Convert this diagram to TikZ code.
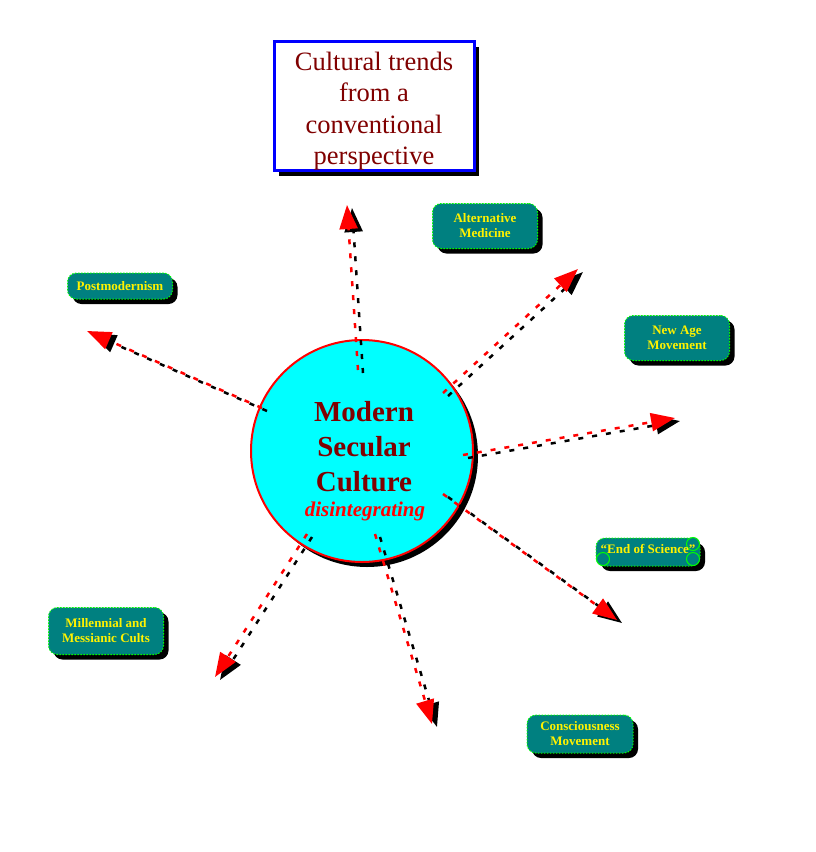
\documentclass[tikz,border=0pt]{standalone}
\usepackage{fontspec}
\setmainfont{Liberation Serif}
\usetikzlibrary{shapes.geometric, arrows.meta, positioning, calc, shadows}

\definecolor{darkred}{RGB}{128,0,0}
\definecolor{boxteal}{RGB}{0,128,128}
\definecolor{hubcyan}{RGB}{0,255,255}

\begin{document}
\begin{tikzpicture}[
  x=1pt, y=-1pt,
  hub/.style={circle, fill=hubcyan, draw=red, line width=2pt, minimum size=222pt,
    drop shadow={shadow xshift=5pt, shadow yshift=-5pt, opacity=1, fill=black}},
  titlebox/.style={rectangle, draw=blue, line width=3pt, fill=white,
    minimum width=200pt, minimum height=129pt, text=darkred, align=center,
    font=\fontsize{26.5}{31.5}\selectfont,
    drop shadow={shadow xshift=5pt, shadow yshift=-5pt, opacity=1, fill=black}},
  trend/.style={rectangle, rounded corners=9pt, fill=boxteal, draw=green,
    dash pattern=on 1.5pt off 1.5pt, line width=1pt, text=yellow, align=center,
    font=\bfseries\fontsize{13}{15}\selectfont, inner sep=0pt,
    drop shadow={shadow xshift=5pt, shadow yshift=-5pt, opacity=1, fill=black}},
  handle/.style={circle, draw=green, fill=boxteal, line width=1pt, minimum size=13pt, inner sep=0pt},
  flow/.style={red, line width=2.5pt, dash pattern=on 5pt off 9pt,
    -{Triangle[length=24pt, width=18pt]}},
  flowshadow/.style={flow, black}
]

\fill[white] (0,0) rectangle (816,852);
\useasboundingbox (0,0) rectangle (816,852);

% Title
\node[titlebox] (title) at (374,106) {};
\node[text=darkred, align=center, font=\fontsize{26.5}{31.5}\selectfont] (titletext) at (374,111) {Cultural trends\\from a\\conventional\\perspective};

% Centre
\node[hub] (mc) at (362,451) {};

% Arrows out of the centre
\coordinate (up0) at (358,370);  \coordinate (up1) at (347,205);
\coordinate (ne0) at (443,393);  \coordinate (ne1) at (578,269);
\coordinate (ea0) at (463,455);  \coordinate (ea1) at (675,418);
\coordinate (se0) at (443,494);  \coordinate (se1) at (617,620);
\coordinate (so0) at (375,534);  \coordinate (so1) at (432,724);
\coordinate (sw0) at (307,534);  \coordinate (sw1) at (215,677);
\coordinate (we0) at (262,408);  \coordinate (we1) at (87,331);

\foreach \a/\b in {up0/up1, ne0/ne1, ea0/ea1, se0/se1, so0/so1, sw0/sw1, we0/we1} {
  \draw[flowshadow] ([shift={(5,3)}]\a) -- ([shift={(5,3)}]\b);
  \draw[flow] (\a) -- (\b);
}

\node[text=darkred, font=\bfseries\fontsize{29}{35}\selectfont, align=center] (mctext) at (364,447) {Modern\\Secular\\Culture};
\node[text=red, font=\bfseries\itshape\fontsize{21}{26}\selectfont] (mcsub) at (365,511) {disintegrating};

% Trends
\node[trend, minimum width=105pt, minimum height=45pt] (altmed) at (485,226) {Alternative\\Medicine};
\node[trend, minimum width=105pt, minimum height=26pt] (postmod) at (120,286) {Postmodernism};
\node[trend, minimum width=105pt, minimum height=45pt] (newage) at (677,338) {New Age\\Movement};
\node[trend, minimum width=104pt, minimum height=28pt] (endsci) at (648,552) {};
\node[trend, minimum width=115pt, minimum height=47pt] (millen) at (106,631) {Millennial and\\Messianic Cults};
\node[trend, minimum width=106pt, minimum height=38pt] (consc) at (580,734) {Consciousness\\Movement};

% Handles on the selected box
\node[handle] (h1) at (603,559) {};
\node[handle] (h2) at (693,544) {};
\node[handle] (h3) at (693,559) {};
\node[text=yellow, font=\bfseries\fontsize{13}{15}\selectfont] (endscitext) at (648,549) {``End of Science''};

\end{tikzpicture}
\end{document}
